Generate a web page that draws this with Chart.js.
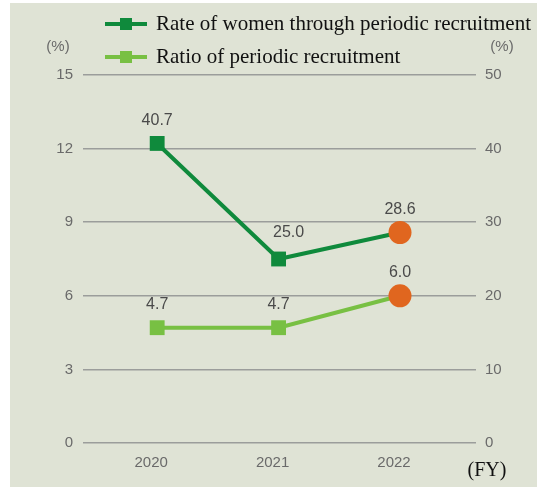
<!DOCTYPE html>
<html lang="en">

<head>
  <meta charset="UTF-8">
  <script src="https://cdn.jsdelivr.net/npm/chart.js"></script>
  <style>
    html, body { margin: 0; padding: 0; background: #ffffff; }
    .chart-box { position: relative; width: 537px; height: 487px; }
  </style>
</head>

<body>
  <div class="chart-box">
    <canvas id="recruitChart" width="537" height="487"></canvas>
  </div>

  <script>
    // values
    const years = [2020, 2021, 2022];
    const rateOfWomen = [40.7, 25.0, 28.6];   // right axis (%)
    const ratioPeriodic = [4.7, 4.7, 6.0];    // left axis (%)
    const leftTicks = [0, 3, 6, 9, 12, 15];
    const rightTicks = [0, 10, 20, 30, 40, 50];

    const darkGreen = '#0f8a3c';
    const lightGreen = '#78c043';
    const orange = '#e0661f';
    const tickFont = "'Liberation Sans', Arial, Helvetica, sans-serif";
    const serifFont = "'Liberation Serif', 'Times New Roman', serif";

    const lastIdx = years.length - 1;
    const pointColors = (base) => years.map((y, i) => i === lastIdx ? orange : base);
    const pointStyles = years.map((y, i) => i === lastIdx ? 'circle' : 'rect');
    const pointSizes = years.map((y, i) => i === lastIdx ? 11.5 : 10.5);

    const extras = {
      id: 'extras',
      beforeDraw(chart) {
        const ctx = chart.ctx;
        ctx.save();
        ctx.fillStyle = '#dfe3d5';
        ctx.fillRect(10, 3, chart.width - 10, chart.height - 3);
        ctx.restore();
      },
      afterDatasetsDraw(chart) {
        const ctx = chart.ctx;
        ctx.save();
        // value labels above points (the 2021 rate label sits a bit right, off the line)
        ctx.font = '16px ' + tickFont;
        ctx.fillStyle = '#4a4a4a';
        ctx.textAlign = 'center';
        ctx.textBaseline = 'middle';
        chart.data.datasets.forEach((ds, di) => {
          chart.getDatasetMeta(di).data.forEach((pt, i) => {
            const nudge = (di === 0 && i === 1) ? 10 : 0;
            ctx.fillText(ds.data[i].y.toFixed(1), pt.x + nudge, pt.y - 23 - nudge / 3);
          });
        });

        // unit labels
        ctx.font = '15px ' + tickFont;
        ctx.fillStyle = '#6a6a6a';
        ctx.fillText('(%)', 58, 47);
        ctx.fillText('(%)', 502, 47);

        ctx.font = '20px ' + serifFont;
        ctx.fillStyle = '#111';
        ctx.fillText('(FY)', 487, 471);

        // legend
        const items = [
          { text: 'Rate of women through periodic recruitment', color: darkGreen, y: 24 },
          { text: 'Ratio of periodic recruitment', color: lightGreen, y: 57 }
        ];
        ctx.font = '21px ' + serifFont;
        items.forEach((it) => {
          ctx.strokeStyle = it.color;
          ctx.lineWidth = 4;
          ctx.beginPath();
          ctx.moveTo(105, it.y);
          ctx.lineTo(147, it.y);
          ctx.stroke();
          ctx.fillStyle = it.color;
          ctx.fillRect(120, it.y - 6, 12, 12);
          ctx.fillStyle = '#111';
          ctx.textAlign = 'left';
          ctx.fillText(it.text, 156, it.y);
        });
        ctx.restore();
      }
    };

    new Chart(document.getElementById('recruitChart'), {
      type: 'line',
      data: {
        datasets: [
          {
            label: 'Rate of women through periodic recruitment',
            data: years.map((y, i) => ({ x: y, y: rateOfWomen[i] })),
            yAxisID: 'y1',
            borderColor: darkGreen,
            borderWidth: 4,
            pointStyle: pointStyles,
            pointRadius: pointSizes,
            pointBackgroundColor: pointColors(darkGreen),
            pointBorderWidth: 0,
            tension: 0
          },
          {
            label: 'Ratio of periodic recruitment',
            data: years.map((y, i) => ({ x: y, y: ratioPeriodic[i] })),
            yAxisID: 'y',
            borderColor: lightGreen,
            borderWidth: 4,
            pointStyle: pointStyles,
            pointRadius: pointSizes,
            pointBackgroundColor: pointColors(lightGreen),
            pointBorderWidth: 0,
            tension: 0
          }
        ]
      },
      options: {
        responsive: false,
        animation: false,
        layout: { padding: { top: 75, left: 0, right: 0, bottom: 0 } },
        plugins: { legend: { display: false }, tooltip: { enabled: false } },
        scales: {
          x: {
            type: 'linear',
            min: 2019.389,
            max: 2022.626,
            afterBuildTicks: (scale) => { scale.ticks = years.map(v => ({ value: v })); },
            afterFit: (scale) => { scale.height = 44; },
            grid: { display: false, drawTicks: false },
            border: { display: false },
            ticks: {
              padding: 11,
              labelOffset: -6,
              color: '#6a6a6a',
              font: { family: tickFont, size: 15 },
              callback: (v) => String(v)
            }
          },
          y: {
            position: 'left',
            min: 0,
            max: 15,
            afterBuildTicks: (scale) => { scale.ticks = leftTicks.map(v => ({ value: v })); },
            afterFit: (scale) => { scale.width = 83; },
            grid: { color: '#9b9d9b', lineWidth: 1.5, drawTicks: false },
            border: { display: false },
            ticks: {
              padding: 10,
              color: '#6a6a6a',
              font: { family: tickFont, size: 15 }
            }
          },
          y1: {
            position: 'right',
            min: 0,
            max: 50,
            afterBuildTicks: (scale) => { scale.ticks = rightTicks.map(v => ({ value: v })); },
            afterFit: (scale) => { scale.width = 61; },
            grid: { drawOnChartArea: false, drawTicks: false },
            border: { display: false },
            ticks: {
              padding: 9,
              color: '#6a6a6a',
              font: { family: tickFont, size: 15 }
            }
          }
        }
      },
      plugins: [extras]
    });
  </script>
</body>

</html>
